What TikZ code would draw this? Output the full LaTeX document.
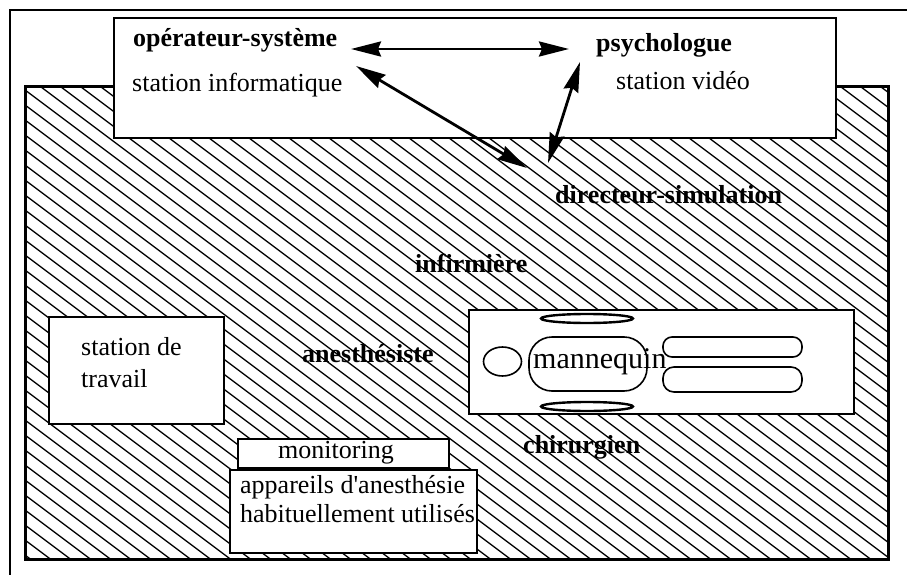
\documentclass[tikz,border=0pt]{standalone}
\usepackage{fontspec}
\setmainfont{Liberation Serif}[Ligatures=TeXOff]
\usetikzlibrary{arrows.meta}
\begin{document}
\begin{tikzpicture}[x=1pt,y=-1pt,
  lbl/.style={inner sep=0pt, anchor=base west, font=\fontsize{26}{30}\selectfont},
  role/.style={inner sep=0pt, anchor=base west, font=\fontsize{26}{30}\selectfont\bfseries},
  box/.style={draw, line width=2pt, fill=white, inner sep=0pt, anchor=north west},
  link/.style={line width=2.8pt, {Stealth[length=30pt,width=15pt,inset=3pt]}-{Stealth[length=30pt,width=15pt,inset=3pt]}},
  hatch/.style={line width=1.3pt},
  part/.style={draw, line width=1.6pt}
]
\useasboundingbox (0,0) rectangle (907,575);
\fill[white] (0,0) rectangle (907,575);

% outer frame (left and top edges)
\draw[line width=2.5pt] (10,575) -- (10,10) -- (907,10);

% hatched simulation room
\begin{scope}
  \clip (25,87) rectangle (888,559);
  \foreach \c in {-570,-555,...,560}
    \draw[hatch] (25,\c) -- (888,\c+647.25);
\end{scope}
\draw[line width=3pt] (25,87) rectangle (888,559);

% control room
\node[box, minimum width=722pt, minimum height=120pt] (ctrl) at (113,17) {};
\node[role] (opsys) at (133,47) {opérateur-système};
\node[lbl] (info) at (132,92) {station informatique};
\node[role] (psy) at (596,52) {psychologue};
\node[lbl] (video) at (616,90) {station vidéo};

% roles in the room
\node[role] (dir) at (555,203) {directeur-simulation};
\node[role] (inf) at (415,272) {infirmière};
\node[role] (anes) at (302,362) {anesthésiste};
\node[role] (chir) at (523,453) {chirurgien};

% workstation
\node[box, minimum width=175pt, minimum height=107pt] (work) at (48,316) {};
\node[lbl] (work1) at (81,355) {station de};
\node[lbl] (work2) at (81,387) {travail};

% anaesthesia equipment
\node[box, minimum width=247pt, minimum height=83pt] (equip) at (229,469) {};
\node[box, minimum width=211pt, minimum height=29pt] (moni) at (237,438) {};
\node[lbl] (monit) at (278,458) {monitoring};
\node[lbl] (equip1) at (240,493) {appareils d'anesthésie};
\node[lbl] (equip2) at (240,522) {habituellement utilisés};

% operating table with the mannequin
\node[box, minimum width=385pt, minimum height=104pt] (table) at (468,309) {};
\draw[part] (502.5,361.5) ellipse [x radius=19, y radius=14.5];
\draw[part, rounded corners=23pt] (529,337) rectangle (647,391);
\draw[line width=2.4pt] (587,318.5) ellipse [x radius=46, y radius=4.5];
\draw[line width=2.4pt] (587,406.5) ellipse [x radius=46, y radius=4.5];
\draw[part, rounded corners=9pt] (663,337) rectangle (802,357);
\draw[part, rounded corners=11pt] (663,367) rectangle (802,392);
\node[inner sep=0pt, anchor=base west, font=\fontsize{30}{34}\selectfont] (mann) at (533,368) {mannequin};

% communication links
\coordinate (opsys-e) at (351,49);
\coordinate (psy-w) at (569,49);
\coordinate (opsys-se) at (356,66);
\coordinate (dir-nw) at (527,168);
\coordinate (psy-sw) at (580,62);
\coordinate (dir-n) at (548,163);
\draw[link] (opsys-e) -- (psy-w);
\draw[link] (opsys-se) -- (dir-nw);
\draw[link] (dir-n) -- (psy-sw);
\end{tikzpicture}
\end{document}
